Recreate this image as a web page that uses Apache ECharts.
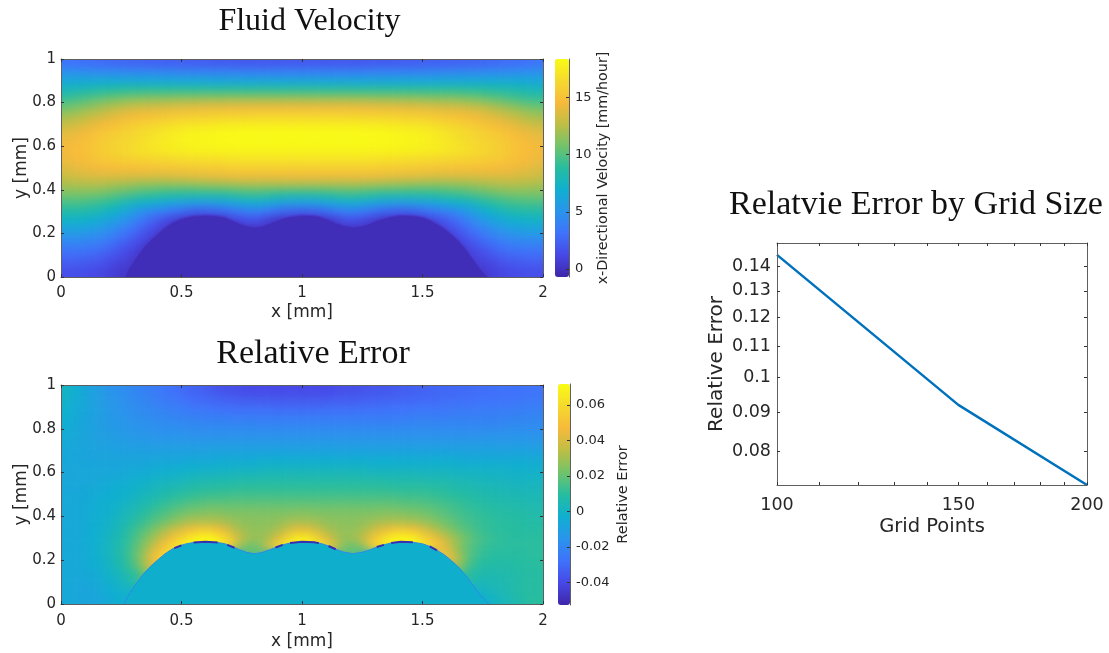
<!DOCTYPE html>
<html>
<head>
<meta charset="utf-8">
<title>Fluid Velocity</title>
<script src="https://cdn.jsdelivr.net/npm/echarts@6/dist/echarts.min.js"></script>
<style>
  html, body { margin: 0; background: #fff; }
  #page { position: relative; width: 1109px; height: 653px; overflow: hidden; }
  /* the cells sit under the axes, softened to look like interpolated shading */
  #heatClip { position: absolute; left: 0; top: 0; width: 1109px; height: 653px;
    clip-path: path('M61 59h482v218h-482z M61 385h482v219h-482z'); }
  #heat { width: 1109px; height: 653px; filter: blur(4px); }
  #chart { position: absolute; left: 0; top: 0; width: 1109px; height: 653px; }
</style>
</head>
<body>
<div id="page">
  <div id="heatClip"><div id="heat"></div></div>
  <div id="chart"></div>
</div>
<script>
// cell centres, same for both heatmaps
const xCells = [.02,.06,.1,.14,.18,.22,.26,.3,.34,.38,.42,.46,.5,.54,.58,.62,.66,.7,.74,.78,.82,.86,.9,.94,.98,1.02,1.06,1.1,1.14,1.18,1.22,1.26,1.3,1.34,1.38,1.42,1.46,1.5,1.54,1.58,1.62,1.66,1.7,1.74,1.78,1.82,1.86,1.9,1.94,1.98];
const yCells = [.02,.06,.1,.14,.18,.22,.26,.3,.34,.38,.42,.46,.5,.54,.58,.62,.66,.7,.74,.78,.82,.86,.9,.94,.98];

// mm/hour, first row is the bottom of the channel
const velocityRows = [
[1.5,1.5,1.4,1.2,1,.7,.3,.1,.1,.1,.1,.1,.1,.1,.1,.1,.1,.1,.1,.1,.1,.1,.1,.1,.1,.1,.1,.1,.1,.1,.1,.1,.1,.1,.1,.1,.1,.1,.1,.1,.1,.1,.1,.3,.7,1,1.2,1.4,1.5,1.5],
[2,2,1.9,1.7,1.4,1,.7,.3,.1,.1,.1,.1,.1,.1,.1,.1,.1,.1,.1,.1,.1,.1,.1,.1,.1,.1,.1,.1,.1,.1,.1,.1,.1,.1,.1,.1,.1,.1,.1,.1,.1,.1,.3,.7,1,1.4,1.7,1.9,2,2],
[2.8,2.8,2.7,2.5,2.1,1.7,1.2,.7,.1,.1,.1,.1,.1,.1,.1,.1,.1,.1,.1,.1,.1,.1,.1,.1,.1,.1,.1,.1,.1,.1,.1,.1,.1,.1,.1,.1,.1,.1,.1,.1,.1,.1,.7,1.2,1.7,2.1,2.5,2.7,2.8,2.8],
[3.7,3.7,3.6,3.4,3,2.5,1.9,1.3,.7,.2,.1,.1,.1,.1,.1,.1,.1,.1,.1,.1,.1,.1,.1,.1,.1,.1,.1,.1,.1,.1,.1,.1,.1,.1,.1,.1,.1,.1,.1,.1,.2,.7,1.3,1.9,2.5,3,3.4,3.6,3.7,3.7],
[4.8,4.8,4.7,4.4,4,3.5,2.8,2.1,1.4,.6,.1,.1,.1,.1,.1,.1,.1,.1,.1,.1,.1,.1,.1,.1,.1,.1,.1,.1,.1,.1,.1,.1,.1,.1,.1,.1,.1,.1,.1,.1,.6,1.4,2.1,2.8,3.5,4,4.4,4.7,4.8,4.8],
[6,6,5.8,5.5,5.1,4.5,3.8,3,2.2,1.4,.6,.1,.1,.1,.1,.1,.1,.1,.1,.1,.1,.1,.1,.1,.1,.1,.1,.1,.1,.1,.1,.1,.1,.1,.1,.1,.1,.1,.1,.6,1.4,2.2,3,3.8,4.5,5.1,5.5,5.8,6,6],
[7.2,7.2,7,6.7,6.3,5.7,5,4.2,3.3,2.4,1.6,.8,.2,.1,.1,.1,.1,.4,1,1.5,1.4,.6,.1,.1,.1,.1,.1,.1,.6,1.4,1.5,1,.4,.1,.1,.1,.1,.2,.8,1.6,2.4,3.3,4.2,5,5.7,6.3,6.7,7,7.2,7.2],
[8.4,8.4,8.3,8,7.6,7.1,6.4,5.6,4.8,4,3.7,3.1,2.6,2.2,2,2.1,2.4,2.8,3.3,3.7,3.7,3.2,2.7,2.2,2.1,2.1,2.2,2.7,3.2,3.7,3.7,3.3,2.8,2.4,2.1,2,2.2,2.6,3.1,3.7,4,4.8,5.6,6.4,7.1,7.6,8,8.3,8.4,8.4],
[9.6,9.6,9.5,9.3,9,8.6,8,7.4,7.1,6.8,6.4,6.1,5.8,5.6,5.5,5.5,5.7,6,6.3,6.6,6.6,6.3,6,5.7,5.6,5.6,5.7,6,6.3,6.6,6.6,6.3,6,5.7,5.5,5.5,5.6,5.8,6.1,6.4,6.8,7.1,7.4,8,8.6,9,9.3,9.5,9.6,9.6],
[10.8,10.8,10.8,10.7,10.5,10.2,9.9,9.6,9.3,9.1,8.9,8.7,8.6,8.5,8.5,8.5,8.6,8.8,9,9.2,9.2,9,8.8,8.6,8.5,8.5,8.6,8.8,9,9.2,9.2,9,8.8,8.6,8.5,8.5,8.5,8.6,8.7,8.9,9.1,9.3,9.6,9.9,10.2,10.5,10.7,10.8,10.8,10.8],
[12,12.1,12.2,12.2,12.1,11.9,11.7,11.5,11.3,11.2,11.1,11.1,11.1,11.2,11.3,11.4,11.5,11.6,11.7,11.8,11.8,11.8,11.8,11.8,11.8,11.8,11.8,11.8,11.8,11.8,11.8,11.7,11.6,11.5,11.4,11.3,11.2,11.1,11.1,11.1,11.2,11.3,11.5,11.7,11.9,12.1,12.2,12.2,12.1,12],
[13,13.2,13.4,13.5,13.5,13.5,13.5,13.4,13.4,13.4,13.4,13.5,13.6,13.7,13.8,13.9,14,14.1,14.2,14.2,14.2,14.2,14.2,14.2,14.2,14.2,14.2,14.2,14.2,14.2,14.2,14.2,14.1,14,13.9,13.8,13.7,13.6,13.5,13.4,13.4,13.4,13.4,13.5,13.5,13.5,13.5,13.4,13.2,13],
[13.6,13.9,14.2,14.4,14.6,14.7,14.8,14.8,14.9,15,15.1,15.2,15.3,15.4,15.5,15.6,15.6,15.7,15.8,15.8,15.8,15.8,15.8,15.8,15.8,15.8,15.8,15.8,15.8,15.8,15.8,15.8,15.7,15.6,15.6,15.5,15.4,15.3,15.2,15.1,15,14.9,14.8,14.8,14.7,14.6,14.4,14.2,13.9,13.6],
[14.2,14.5,14.8,15.1,15.4,15.6,15.8,16,16.1,16.2,16.3,16.4,16.5,16.6,16.7,16.8,16.8,16.9,17,17,17,17,17,17,17,17,17,17,17,17,17,17,16.9,16.8,16.8,16.7,16.6,16.5,16.4,16.3,16.2,16.1,16,15.8,15.6,15.4,15.1,14.8,14.5,14.2],
[14.4,14.7,15,15.4,15.8,16.1,16.4,16.7,16.9,17.1,17.3,17.5,17.6,17.7,17.8,17.8,17.9,17.9,17.9,17.9,17.9,17.9,17.9,17.9,17.9,17.9,17.9,17.9,17.9,17.9,17.9,17.9,17.9,17.9,17.8,17.8,17.7,17.6,17.5,17.3,17.1,16.9,16.7,16.4,16.1,15.8,15.4,15,14.7,14.4],
[14.3,14.6,15,15.3,15.6,16,16.2,16.5,16.8,17.1,17.4,17.6,17.8,18,18.1,18.1,18.2,18.2,18.3,18.3,18.3,18.3,18.3,18.3,18.3,18.3,18.3,18.3,18.3,18.3,18.3,18.3,18.2,18.2,18.1,18.1,18,17.8,17.6,17.4,17.1,16.8,16.5,16.2,16,15.6,15.3,15,14.6,14.3],
[13.8,14.1,14.5,15,15.4,15.7,16,16.3,16.6,16.9,17.2,17.5,17.7,17.9,18,18.1,18.2,18.2,18.3,18.3,18.3,18.3,18.3,18.3,18.3,18.3,18.3,18.3,18.3,18.3,18.3,18.3,18.2,18.2,18.1,18,17.9,17.7,17.5,17.2,16.9,16.6,16.3,16,15.7,15.4,15,14.5,14.1,13.8],
[13,13.3,13.7,14.1,14.5,14.9,15.3,15.7,16,16.3,16.5,16.8,17,17.1,17.2,17.3,17.4,17.5,17.5,17.6,17.6,17.6,17.6,17.6,17.6,17.6,17.6,17.6,17.6,17.6,17.6,17.5,17.5,17.4,17.3,17.2,17.1,17,16.8,16.5,16.3,16,15.7,15.3,14.9,14.5,14.1,13.7,13.3,13],
[11.9,12.2,12.6,13,13.4,13.8,14.2,14.5,14.8,15,15.2,15.4,15.6,15.7,15.8,15.9,16,16,16.1,16.1,16.2,16.2,16.2,16.2,16.2,16.2,16.2,16.2,16.2,16.2,16.1,16.1,16,16,15.9,15.8,15.7,15.6,15.4,15.2,15,14.8,14.5,14.2,13.8,13.4,13,12.6,12.2,11.9],
[10.6,10.9,11.3,11.7,12.1,12.5,12.8,13.1,13.3,13.4,13.5,13.7,13.8,13.9,14,14.1,14.1,14.2,14.2,14.3,14.3,14.3,14.3,14.3,14.3,14.3,14.3,14.3,14.3,14.3,14.3,14.2,14.2,14.1,14.1,14,13.9,13.8,13.7,13.5,13.4,13.3,13.1,12.8,12.5,12.1,11.7,11.3,10.9,10.6],
[9.2,9.5,9.8,10.1,10.4,10.7,10.9,11.2,11.3,11.4,11.4,11.5,11.6,11.6,11.7,11.7,11.7,11.8,11.8,11.8,11.8,11.8,11.8,11.8,11.8,11.8,11.8,11.8,11.8,11.8,11.8,11.8,11.7,11.7,11.7,11.6,11.6,11.5,11.4,11.4,11.3,11.2,10.9,10.7,10.4,10.1,9.8,9.5,9.2,9.2],
[7.8,8,8.2,8.4,8.6,8.7,8.9,8.9,9,9,9,9,9,9,9,9,9,9,9,9,9,9,9,9,9,9,9,9,9,9,9,9,9,9,9,9,9,9,9,9,9,9,8.9,8.9,8.7,8.6,8.4,8.2,8,7.8],
[6.4,6.4,6.5,6.5,6.6,6.6,6.6,6.6,6.5,6.5,6.5,6.4,6.4,6.4,6.4,6.3,6.3,6.3,6.3,6.3,6.3,6.3,6.3,6.3,6.3,6.3,6.3,6.3,6.3,6.3,6.3,6.3,6.3,6.3,6.3,6.4,6.4,6.4,6.4,6.5,6.5,6.5,6.6,6.6,6.6,6.6,6.5,6.5,6.4,6.4],
[4.9,4.8,4.8,4.7,4.6,4.6,4.5,4.5,4.4,4.4,4.3,4.3,4.2,4.2,4.2,4.1,4.1,4.1,4.1,4,4,4,4,4,4,4,4,4,4,4,4,4.1,4.1,4.1,4.1,4.2,4.2,4.2,4.3,4.3,4.4,4.4,4.5,4.5,4.6,4.6,4.7,4.8,4.8,4.9],
[3.2,3.1,3,2.9,2.8,2.7,2.6,2.5,2.5,2.4,2.4,2.3,2.3,2.2,2.2,2.1,2.1,2.1,2,2,2,2,2,2,2,2,2,2,2,2,2,2,2.1,2.1,2.1,2.2,2.2,2.3,2.3,2.4,2.4,2.5,2.5,2.6,2.7,2.8,2.9,3,3.1,3.2]
];

// relative error in thousandths, first row is the bottom of the channel
const errorRows = [
[-6,-7,-8,-8,-6,-4,-3,-3,-3,-3,-3,-3,-3,-3,-3,-3,-3,-3,-3,-3,-3,-3,-3,-3,-3,-3,-3,-3,-3,-3,-3,-3,-3,-3,-3,-3,-3,-3,-3,-3,-3,-3,-3,-3,-1,2,4,7,9,10],
[-6,-7,-8,-7,-5,-3,-1,0,-3,-3,-3,-3,-3,-3,-3,-3,-3,-3,-3,-3,-3,-3,-3,-3,-3,-3,-3,-3,-3,-3,-3,-3,-3,-3,-3,-3,-3,-3,-3,-3,-3,-3,-3,0,2,4,6,8,9,9],
[-6,-7,-7,-6,-4,-1,2,6,14,-3,-3,-3,-3,-3,-3,-3,-3,-3,-3,-3,-3,-3,-3,-3,-3,-3,-3,-3,-3,-3,-3,-3,-3,-3,-3,-3,-3,-3,-3,-3,-3,-3,8,3,4,5,6,8,9,9],
[-6,-6,-6,-5,-2,1,5,10,18,34,-3,-3,-3,-3,-3,-3,-3,-3,-3,-3,-3,-3,-3,-3,-3,-3,-3,-3,-3,-3,-3,-3,-3,-3,-3,-3,-3,-3,-3,-3,-3,16,9,7,6,6,7,8,9,9],
[-6,-6,-5,-4,-1,3,8,15,28,42,50,-3,-3,-3,-3,-3,-3,-3,-3,-3,-3,-3,-3,-3,-3,-3,-3,-3,-3,-3,-3,-3,-3,-3,-3,-3,-3,-3,-3,-3,40,26,14,9,8,8,8,9,9,10],
[-6,-6,-5,-3,0,4,9,17,28,45,58,66,-3,-3,-3,-3,-3,-3,-3,18,18,-3,-3,-3,-3,-3,-3,-3,-3,18,18,-3,-3,-3,-3,-3,-3,-3,-3,55,42,28,17,12,10,9,9,9,10,10],
[-6,-6,-5,-3,0,4,9,16,25,36,48,60,68,72,72,72,66,56,28,20,22,38,60,66,70,70,66,60,40,22,20,28,56,64,70,72,70,66,58,46,34,24,17,13,11,10,10,10,10,10],
[-6,-6,-5,-3,0,3,8,14,21,29,38,48,58,66,72,72,66,54,38,30,28,31,42,58,68,68,58,44,32,28,30,38,52,62,70,72,70,60,50,41,32,25,19,15,13,11,10,10,10,10],
[-6,-6,-5,-3,-1,2,6,12,17,23,29,36,42,48,52,52,47,38,31,28,27,28,31,38,44,44,38,32,29,27,28,31,38,44,50,52,48,42,35,29,24,19,16,13,11,10,10,9,9,9],
[-6,-6,-5,-4,-2,1,4,8,12,16,20,24,28,31,32,32,31,29,27,26,26,26,27,29,30,30,29,27,26,26,26,27,29,30,31,31,30,28,25,22,19,16,14,12,11,10,9,9,8,8],
[-6,-6,-5,-4,-3,-1,2,5,9,12,15,18,21,23,24,25,25,24,24,24,24,24,24,24,25,25,24,24,24,24,24,24,24,25,25,24,23,22,20,18,16,14,12,11,10,9,8,8,7,7],
[-6,-6,-5,-4,-3,-2,0,2,5,8,11,13,15,17,18,19,19,19,19,19,19,19,19,19,19,19,19,19,19,19,19,19,19,19,19,18,18,17,16,15,13,12,10,9,8,7,7,6,6,5],
[-6,-6,-6,-5,-4,-3,-2,0,2,4,6,8,10,11,12,13,13,14,14,14,14,14,14,14,14,14,14,14,14,14,14,14,14,14,14,13,13,13,12,11,10,9,8,7,6,5,5,4,4,4],
[-7,-7,-6,-6,-5,-4,-3,-2,0,1,3,4,5,7,8,8,9,9,10,10,10,10,10,10,10,10,10,10,10,10,10,10,10,10,9,9,9,9,8,8,7,6,5,4,4,3,3,2,2,2],
[-7,-7,-7,-7,-6,-6,-5,-4,-3,-2,-1,0,1,2,3,3,4,4,5,5,5,6,6,6,6,6,6,6,6,6,6,5,5,5,5,5,5,4,4,4,3,3,2,2,1,1,0,0,0,0],
[-7,-7,-7,-7,-7,-7,-7,-6,-6,-5,-4,-4,-3,-3,-2,-2,-1,-1,0,0,0,1,1,1,1,1,1,1,1,1,1,1,0,0,0,0,0,0,0,0,0,-1,-1,-1,-1,-1,-2,-2,-2,-2],
[-7,-7,-8,-8,-8,-8,-8,-8,-8,-8,-7,-7,-7,-6,-6,-6,-5,-5,-5,-5,-4,-4,-4,-4,-4,-4,-4,-4,-4,-4,-4,-4,-4,-4,-4,-4,-4,-4,-4,-4,-4,-5,-5,-5,-5,-5,-5,-5,-5,-5],
[-6,-7,-8,-9,-9,-9,-10,-10,-10,-10,-10,-10,-10,-10,-10,-9,-9,-9,-9,-9,-9,-9,-9,-9,-9,-9,-9,-9,-9,-9,-9,-9,-9,-9,-9,-9,-9,-9,-9,-9,-9,-9,-9,-9,-9,-9,-9,-9,-9,-9],
[-5,-7,-8,-9,-10,-11,-11,-12,-12,-13,-13,-13,-13,-13,-13,-13,-13,-13,-13,-13,-13,-13,-13,-13,-13,-13,-13,-13,-13,-13,-13,-13,-13,-13,-13,-13,-13,-13,-13,-13,-13,-13,-13,-13,-13,-13,-13,-13,-13,-13],
[-5,-6,-8,-10,-11,-12,-13,-14,-15,-15,-16,-16,-16,-17,-17,-17,-17,-17,-17,-17,-17,-17,-17,-17,-17,-17,-17,-17,-17,-17,-17,-17,-17,-17,-17,-17,-17,-17,-17,-17,-17,-17,-17,-17,-16,-16,-16,-16,-16,-16],
[-4,-6,-8,-10,-12,-13,-14,-15,-16,-17,-18,-18,-19,-19,-20,-20,-20,-20,-20,-20,-21,-21,-21,-21,-21,-21,-21,-21,-21,-21,-21,-21,-21,-21,-21,-20,-20,-20,-20,-20,-20,-20,-20,-20,-20,-20,-19,-19,-19,-19],
[-3,-5,-8,-10,-12,-14,-15,-17,-18,-19,-20,-21,-22,-23,-23,-24,-24,-25,-25,-25,-25,-25,-25,-25,-25,-25,-25,-25,-25,-25,-25,-25,-25,-25,-25,-25,-24,-24,-24,-24,-24,-23,-23,-23,-23,-22,-22,-22,-21,-21],
[-2,-5,-7,-10,-12,-14,-16,-18,-19,-21,-22,-24,-25,-26,-27,-28,-29,-29,-30,-30,-30,-30,-31,-31,-31,-31,-31,-30,-30,-30,-30,-29,-29,-29,-28,-28,-28,-27,-27,-27,-26,-26,-26,-25,-25,-25,-25,-24,-24,-24],
[-1,-4,-7,-10,-13,-15,-17,-19,-21,-23,-25,-26,-28,-30,-31,-32,-33,-34,-35,-35,-36,-36,-36,-36,-36,-36,-36,-36,-35,-35,-35,-34,-34,-33,-33,-32,-32,-31,-31,-30,-30,-29,-29,-28,-28,-28,-27,-27,-26,-26],
[1,-3,-7,-10,-13,-16,-18,-20,-22,-24,-26,-28,-30,-32,-33,-35,-37,-38,-39,-40,-40,-40,-40,-40,-40,-40,-40,-40,-39,-38,-38,-37,-36,-36,-35,-34,-33,-33,-32,-31,-31,-30,-30,-29,-29,-28,-28,-28,-27,-27]
];

// top of the solid
const interfaceX = [.262,.28,.31,.34,.37,.4,.43,.46,.49,.52,.55,.6,.65,.68,.71,.74,.77,.8,.83,.86,.89,.92,.95,1,1.05,1.08,1.11,1.14,1.17,1.21,1.25,1.28,1.31,1.34,1.37,1.41,1.46,1.5,1.53,1.56,1.59,1.62,1.65,1.68,1.71,1.74,1.775];
const interfaceY = [0,.04,.09,.135,.17,.2,.228,.25,.265,.275,.281,.284,.281,.275,.262,.248,.236,.23,.234,.245,.258,.27,.278,.284,.282,.276,.265,.25,.238,.23,.236,.247,.26,.27,.279,.284,.282,.275,.263,.245,.225,.198,.168,.13,.085,.04,0];
// under-resolved spots along the crests
const coldX = [.47,.5,'-',.55,.6,.65,'-',.69,.72,'-',.89,.92,'-',.95,1,1.05,1.07,'-',1.11,1.14,'-',1.31,1.34,'-',1.37,1.41,1.46,'-',1.53,1.56];
const coldY = [.255,.268,'-',.281,.284,.281,'-',.27,.257,'-',.258,.27,'-',.278,.284,.282,.278,'-',.265,.25,'-',.26,.27,'-',.279,.284,.282,'-',.263,.245];

const gridPoints = [100, 150, 200];
const gridError = [.1449, .0921, .0723];

const xTicks = [0, .5, 1, 1.5, 2];
const yTicks = [0, .2, .4, .6, .8, 1];
const velocityTicks = [0, 5, 10, 15];
const errorTicks = [-.04, -.02, 0, .02, .04, .06];
const pointTicks = [100, 150, 200];
const pointMinorTicks = [100, 110, 120, 130, 140, 150, 160, 170, 180, 190, 200];
const relErrTicks = [.08, .09, .1, .11, .12, .13, .14];

const parula = ['#3E26A8','#4748E6','#3F72FB','#2A94EC','#0FAFD0','#26BDA0','#72C36A','#BEBE45','#F7BA3B','#F5D92E','#F9FB15'];
const textColor = '#262626';
const frameColor = '#5f5f5f';
const labelFont = 'DejaVu Sans';
const titleFont = 'Liberation Serif';

// two hidden cells per side repeat the edge values, so the blur has no white to pull in
const edgeCells = 2;

function paddedCells(rows, scale) {
  const cells = [];
  const nRows = rows.length, nCols = rows[0].length;
  for (let j = -edgeCells; j < nRows + edgeCells; j++) {
    const row = rows[Math.min(nRows - 1, Math.max(0, j))];
    for (let i = -edgeCells; i < nCols + edgeCells; i++) {
      const v = row[Math.min(nCols - 1, Math.max(0, i))];
      cells.push([i + edgeCells, j + edgeCells, v * scale]);
    }
  }
  return cells;
}

function paddedAxis(gridIndex, cells) {
  const data = [-.06, -.02].concat(cells, [cells[cells.length - 1] + .04, cells[cells.length - 1] + .08]);
  return { type: 'category', gridIndex, data, show: false, boundaryGap: true };
}

function paddedGrid(left, top, width, height) {
  const dx = width / xCells.length * edgeCells;
  const dy = height / yCells.length * edgeCells;
  return { left: left - dx, top: top - dy, width: width + 2 * dx, height: height + 2 * dy };
}

function zip(xs, ys) {
  return xs.map((x, i) => [x, ys[i]]);
}

// axis with ticks only, text is switched on when label options are passed
function frameAxis(gridIndex, position, min, max, ticks, text) {
  const axis = {
    type: 'value', gridIndex, position, min, max, z: 6,
    splitLine: { show: false },
    axisLine: { show: true, onZero: false, lineStyle: { color: frameColor, width: 1 } },
    axisTick: { show: true, inside: true, length: 3, customValues: ticks, lineStyle: { color: '#333' } },
    axisLabel: { show: false }
  };
  if (text) {
    axis.name = text.name;
    axis.nameLocation = 'middle';
    axis.nameGap = text.gap;
    axis.nameMoveOverlap = false;
    axis.nameTextStyle = { color: textColor, fontFamily: labelFont, fontSize: text.nameSize };
    axis.axisLabel = { show: true, customValues: text.labels || ticks, color: textColor, fontFamily: labelFont, fontSize: text.size, margin: text.margin, hideOverlap: false };
  }
  return axis;
}

function logAxis(gridIndex, position, min, max, ticks, text) {
  const axis = frameAxis(gridIndex, position, min, max, ticks, text);
  axis.type = 'log';
  axis.logBase = 10;
  return axis;
}

function titleAt(text, left, top, fontSize) {
  return { text, left, top, padding: 0, textAlign: 'center', textStyle: { fontFamily: titleFont, fontWeight: 'normal', fontSize, color: '#111' } };
}

const heatOption = {
  animation: false,
  grid: [paddedGrid(61, 59, 482, 218), paddedGrid(61, 385, 482, 219)],
  xAxis: [paddedAxis(0, xCells), paddedAxis(1, xCells)],
  yAxis: [paddedAxis(0, yCells), paddedAxis(1, yCells)],
  visualMap: [
    { type: 'continuous', show: false, seriesIndex: 0, min: -.7, max: 18.36, inRange: { color: parula } },
    { type: 'continuous', show: false, seriesIndex: 1, min: -.0528, max: .0719, inRange: { color: parula } }
  ],
  series: [
    { type: 'heatmap', name: 'velocity', xAxisIndex: 0, yAxisIndex: 0, data: paddedCells(velocityRows, 1), progressive: 0, emphasis: { disabled: true } },
    { type: 'heatmap', name: 'error', xAxisIndex: 1, yAxisIndex: 1, data: paddedCells(errorRows, .001), progressive: 0, emphasis: { disabled: true } }
  ]
};

const option = {
  animation: false,
  title: [
    titleAt('Fluid Velocity', 309.5, 6, 32),
    titleAt('Relative Error', 313, 337, 34),
    titleAt('Relatvie Error by Grid Size', 916, 188, 34)
  ],
  grid: [
    { left: 61, top: 59, width: 482, height: 218 },
    { left: 555, top: 59, width: 14, height: 218 },
    { left: 61, top: 385, width: 482, height: 219 },
    { left: 558, top: 384, width: 12, height: 221 },
    { left: 777, top: 243, width: 310, height: 242 }
  ],
  xAxis: [
    frameAxis(0, 'bottom', 0, 2, xTicks, { name: 'x [mm]', size: 15, nameSize: 17, margin: 9, gap: 27.5 }),
    frameAxis(0, 'top', 0, 2, xTicks),
    frameAxis(2, 'bottom', 0, 2, xTicks, { name: 'x [mm]', size: 15, nameSize: 17, margin: 10, gap: 29.5 }),
    frameAxis(2, 'top', 0, 2, xTicks),
    { type: 'value', gridIndex: 1, show: false },
    { type: 'value', gridIndex: 3, show: false },
    logAxis(4, 'bottom', 100, 200, pointMinorTicks, { name: 'Grid Points', labels: pointTicks, size: 17.5, nameSize: 19.5, margin: 11, gap: 32 }),
    logAxis(4, 'top', 100, 200, pointMinorTicks)
  ],
  yAxis: [
    frameAxis(0, 'left', 0, 1, yTicks, { name: 'y [mm]', size: 15, nameSize: 17, margin: 5, gap: 31 }),
    frameAxis(0, 'right', 0, 1, yTicks),
    frameAxis(2, 'left', 0, 1, yTicks, { name: 'y [mm]', size: 15, nameSize: 17, margin: 5, gap: 31 }),
    frameAxis(2, 'right', 0, 1, yTicks),
    frameAxis(1, 'right', -.7, 18.36, velocityTicks, { name: 'x-Directional Velocity [mm/hour]', size: 13, nameSize: 14.3, margin: 6, gap: 27 }),
    frameAxis(3, 'right', -.0528, .0719, errorTicks, { name: 'Relative Error', size: 13, nameSize: 14.5, margin: 6, gap: 46 }),
    logAxis(4, 'left', .0723, .1502, relErrTicks, { name: 'Relative Error', size: 17.5, nameSize: 20, margin: 6, gap: 50 }),
    logAxis(4, 'right', .0723, .1502, relErrTicks)
  ],
  visualMap: [
    { type: 'continuous', seriesIndex: [], min: -.7, max: 18.36, left: 555, top: 59, itemWidth: 14, itemHeight: 218, padding: 0, inRange: { color: parula }, calculable: false, hoverLink: false, z: 4 },
    { type: 'continuous', seriesIndex: [], min: -.0528, max: .0719, left: 558, top: 384, itemWidth: 12, itemHeight: 221, padding: 0, inRange: { color: parula }, calculable: false, hoverLink: false, z: 4 }
  ],
  series: [
    { type: 'line', name: 'solid velocity', xAxisIndex: 0, yAxisIndex: 0, data: zip(interfaceX, interfaceY), symbol: 'none', z: 3,
      lineStyle: { color: '#4a3ed0', width: 2, opacity: .6 }, areaStyle: { color: '#402db8', opacity: 1 } },
    { type: 'line', name: 'solid', xAxisIndex: 2, yAxisIndex: 2, data: zip(interfaceX, interfaceY), symbol: 'none', z: 3,
      lineStyle: { color: '#2b8be8', width: 1 }, areaStyle: { color: '#10aecd', opacity: 1 } },
    { type: 'line', name: 'crest', xAxisIndex: 2, yAxisIndex: 2, data: zip(coldX, coldY), symbol: 'none', z: 4,
      lineStyle: { color: '#3a2fb0', width: 2 } },
    { type: 'line', name: 'grid error', xAxisIndex: 6, yAxisIndex: 6, data: zip(gridPoints, gridError), symbol: 'none', z: 4,
      lineStyle: { color: '#0072BD', width: 2.5 } }
  ]
};

const heat = echarts.init(document.getElementById('heat'));
heat.setOption(heatOption);
const chart = echarts.init(document.getElementById('chart'));
chart.setOption(option);
</script>
</body>
</html>
